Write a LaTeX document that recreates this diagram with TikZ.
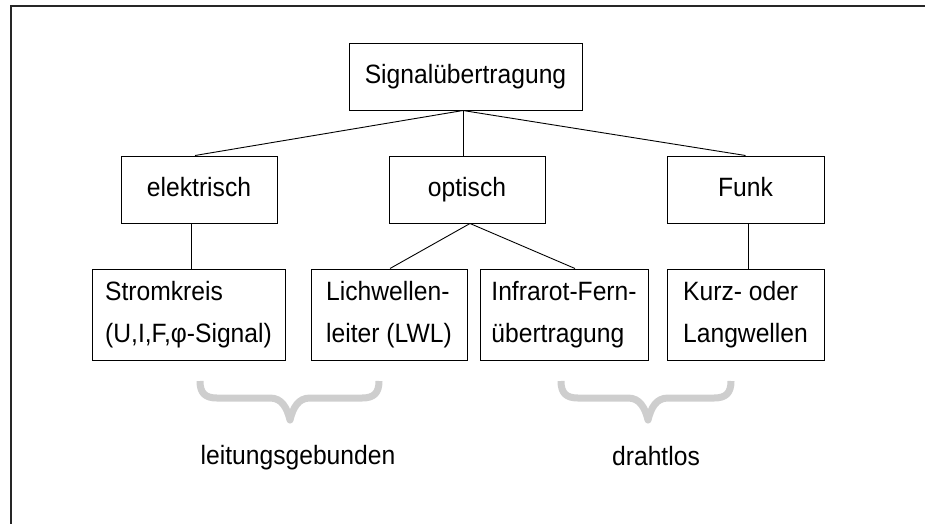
\documentclass[tikz,border=0pt]{standalone}
\usepackage{fontspec}
\setmainfont{Liberation Sans}[FakeStretch=0.93]
\definecolor{bracegray}{RGB}{206,206,206}
\begin{document}
\begin{tikzpicture}[x=1pt,y=-1pt,
  box/.style={draw, line width=1pt, inner sep=0pt, font=\fontsize{26.5}{42}\selectfont},
  lower/.style={box, minimum height=91pt, align=left},
  upper/.style={box, minimum height=67pt, text height=19pt, text depth=5pt},
  conn/.style={line width=0.9pt},
  brace/.style={draw=bracegray, line width=7pt, line join=round},
  lbl/.style={anchor=base, inner sep=0pt, font=\fontsize{26.5}{30}\selectfont}
]
\useasboundingbox (0,0) rectangle (925,523);
\draw[line width=2pt, black!85] (11,530) -- (11,6) -- (930,6);

\node[upper, minimum width=233pt] (sig) at (465.5,76.5) {Signalübertragung};
\node[upper, minimum width=156pt] (el) at (199,189.5) {elektrisch};
\node[upper, minimum width=156pt] (op) at (467,189.5) {optisch};
\node[upper, minimum width=157pt] (fu) at (745.5,189.5) {Funk};

\node[lower, minimum width=193pt] (st) at (188.5,314.5) {Stromkreis\\(U,I,F,φ-Signal)};
\node[lower, minimum width=156pt] (lw) at (389,314.5) {Lichwellen-\\leiter (LWL)};
\node[lower, minimum width=168pt] (ir) at (564,314.5) {Infrarot-Fern-\\übertragung};
\node[lower, minimum width=157pt] (kl) at (745.5,314.5) {Kurz- oder\\Langwellen};

\draw[conn] ([xshift=-2.5pt]sig.south) -- ([xshift=-4pt]el.north);
\draw[conn] ([xshift=-2.5pt]sig.south) -- ([xshift=-4pt]op.north);
\draw[conn] ([xshift=-2.5pt]sig.south) -- (fu.north);
\draw[conn] ([xshift=-8pt]el.south) -- ([xshift=2.5pt]st.north);
\draw[conn] ([xshift=3pt]op.south) -- ([xshift=1pt]lw.north);
\draw[conn] ([xshift=3pt]op.south) -- ([xshift=11pt]ir.north);
\draw[conn] ([xshift=2.5pt]fu.south) -- ([xshift=2.5pt]kl.north);

\draw[brace] (200,381) .. controls (200,393) and (205,398) .. (217,398) -- (270,398)
  .. controls (282,398) and (287,408) .. (290,420)
  .. controls (293,408) and (298,398) .. (310,398) -- (362,398)
  .. controls (374,398) and (379,393) .. (379,381);
\draw[brace] (561,381) .. controls (561,393) and (566,398) .. (578,398) -- (628,398)
  .. controls (640,398) and (645,408) .. (648,420)
  .. controls (651,408) and (656,398) .. (668,398) -- (714,398)
  .. controls (726,398) and (731,393) .. (731,381);

\node[lbl] (lg) at (298,464) {leitungsgebunden};
\node[lbl] (dl) at (656,465) {drahtlos};
\end{tikzpicture}
\end{document}
